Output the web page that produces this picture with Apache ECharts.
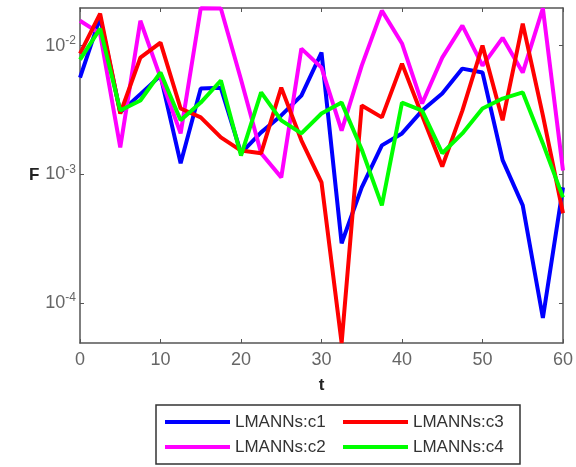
<!DOCTYPE html>
<html>
<head>
<meta charset="utf-8">
<script src="https://cdn.jsdelivr.net/npm/echarts@6/dist/echarts.min.js"></script>
<style>
  html, body { margin: 0; padding: 0; background: #fff; }
  #chart { width: 576px; height: 467px; }
</style>
</head>
<body>
<div id="chart"></div>
<script>
// Time steps t = 0, 2.5, ..., 60
const tValues = [0, 2.5, 5, 7.5, 10, 12.5, 15, 17.5, 20, 22.5, 25, 27.5, 30,
                 32.5, 35, 37.5, 40, 42.5, 45, 47.5, 50, 52.5, 55, 57.5, 60];

// Fitness F for each LMANNs case
const c1 = [0.00565, 0.0165, 0.00303, 0.0042, 0.00585, 0.00122, 0.00464, 0.0047, 0.00146,
            0.00212, 0.00287, 0.00409, 0.00883, 0.000292, 0.000792, 0.00168, 0.00208,
            0.00313, 0.00425, 0.00663, 0.00618, 0.00129, 0.000575, 0.0000766, 0.000792];
const c2 = [0.0156, 0.0124, 0.00162, 0.0156, 0.00565, 0.00208, 0.0195, 0.0194, 0.00545,
            0.00146, 0.000948, 0.00948, 0.00675, 0.00219, 0.0070, 0.0187, 0.0104,
            0.00355, 0.00807, 0.0143, 0.0070, 0.0115, 0.00618, 0.0195, 0.00107];
const c3 = [0.00867, 0.0177, 0.00297, 0.00807, 0.01055, 0.00325, 0.00277, 0.00194, 0.00153,
            0.00146, 0.00472, 0.00184, 0.000867, 0.000049, 0.00343, 0.00277, 0.00725,
            0.00287, 0.00115, 0.00313, 0.0100, 0.00263, 0.01483, 0.00287, 0.000499];
const c4 = [0.00778, 0.01355, 0.00313, 0.00375, 0.00618, 0.00263, 0.00361, 0.00536, 0.0014,
            0.00433, 0.00263, 0.00208, 0.00297, 0.00361, 0.00156, 0.000575, 0.00361,
            0.00313, 0.00146, 0.00208, 0.00325, 0.00388, 0.00433, 0.00174, 0.000663];

const seriesNames = ['LMANNs:c1', 'LMANNs:c2', 'LMANNs:c3', 'LMANNs:c4'];
const seriesData = [c1, c2, c3, c4];
const seriesColors = ['#0000ff', '#ff00ff', '#ff0000', '#00ff00'];

const xTicks = [0, 10, 20, 30, 40, 50, 60];
const yTicks = [1e-4, 1e-3, 1e-2];

const axisColor = '#555';
const labelColor = '#666';
const font = 'Liberation Sans, Arial, sans-serif';

const chart = echarts.init(document.getElementById('chart'), null, { renderer: 'canvas' });

// Power-of-ten tick text, exponent as superscript
function powLabel(v) {
  const e = Math.round(Math.log10(v));
  return '10{s|' + e + '}';
}

const option = {
  backgroundColor: '#fff',
  animation: false,
  grid: { left: 80, right: 13, top: 8, bottom: 124, show: false },
  legend: {
    data: ['LMANNs:c1', 'LMANNs:c3', 'LMANNs:c2', 'LMANNs:c4'],
    left: 156,
    top: 405,
    width: 360,
    orient: 'horizontal',
    icon: 'rect',
    itemWidth: 65,
    itemHeight: 4,
    itemGap: 5,
    padding: [7, 4, 7, 9],
    borderColor: '#333',
    borderWidth: 1.5,
    textStyle: {
      fontFamily: font,
      fontSize: 17,
      color: '#333',
      width: 103,
      lineHeight: 20
    }
  },
  xAxis: [{
    type: 'value',
    min: 0, max: 60, interval: 10,
    name: 't',
    nameLocation: 'middle',
    nameGap: 34,
    nameTextStyle: { fontFamily: font, fontSize: 17, fontWeight: 'bold', color: '#222' },
    axisLine: { show: true, onZero: false, lineStyle: { color: axisColor, width: 1.5 } },
    axisTick: { show: true, inside: true, length: 4, lineStyle: { color: axisColor } },
    axisLabel: { fontFamily: font, fontSize: 18, color: labelColor, margin: 8 },
    splitLine: { show: false }
  }, {
    type: 'value',
    position: 'top',
    min: 0, max: 60, interval: 10,
    axisLine: { show: true, onZero: false, lineStyle: { color: axisColor, width: 1.5 } },
    axisTick: { show: true, inside: true, length: 4, lineStyle: { color: axisColor } },
    axisLabel: { show: false },
    splitLine: { show: false }
  }],
  yAxis: [{
    type: 'log',
    logBase: 10,
    min: 0.000049,
    max: 0.0196,
    name: 'F',
    nameLocation: 'middle',
    nameRotate: 0,
    nameGap: 36,
    nameTextStyle: { fontFamily: font, fontSize: 17, fontWeight: 'bold', color: '#222' },
    axisLine: { show: true, onZero: false, lineStyle: { color: axisColor, width: 1.5 } },
    axisTick: { show: true, inside: true, length: 4, customValues: yTicks, lineStyle: { color: axisColor } },
    axisLabel: {
      customValues: yTicks,
      formatter: powLabel,
      fontFamily: font,
      fontSize: 18,
      color: labelColor,
      margin: 4,
      rich: {
        s: { fontFamily: font, fontSize: 12, color: labelColor, verticalAlign: 'top', padding: [0, 0, 10, 0] }
      }
    },
    splitLine: { show: false }
  }, {
    type: 'log',
    logBase: 10,
    position: 'right',
    min: 0.000049,
    max: 0.0196,
    axisLine: { show: true, onZero: false, lineStyle: { color: axisColor, width: 1.5 } },
    axisTick: { show: true, inside: true, length: 4, customValues: yTicks, lineStyle: { color: axisColor } },
    axisLabel: { show: false },
    splitLine: { show: false }
  }],
  series: seriesNames.map((name, i) => ({
    name: name,
    type: 'line',
    xAxisIndex: 0,
    yAxisIndex: 0,
    data: tValues.map((t, k) => [t, seriesData[i][k]]),
    showSymbol: false,
    symbol: 'none',
    lineStyle: { color: seriesColors[i], width: 4 },
    itemStyle: { color: seriesColors[i] },
    z: 2 + i
  }))
};

chart.setOption(option);
</script>
</body>
</html>
